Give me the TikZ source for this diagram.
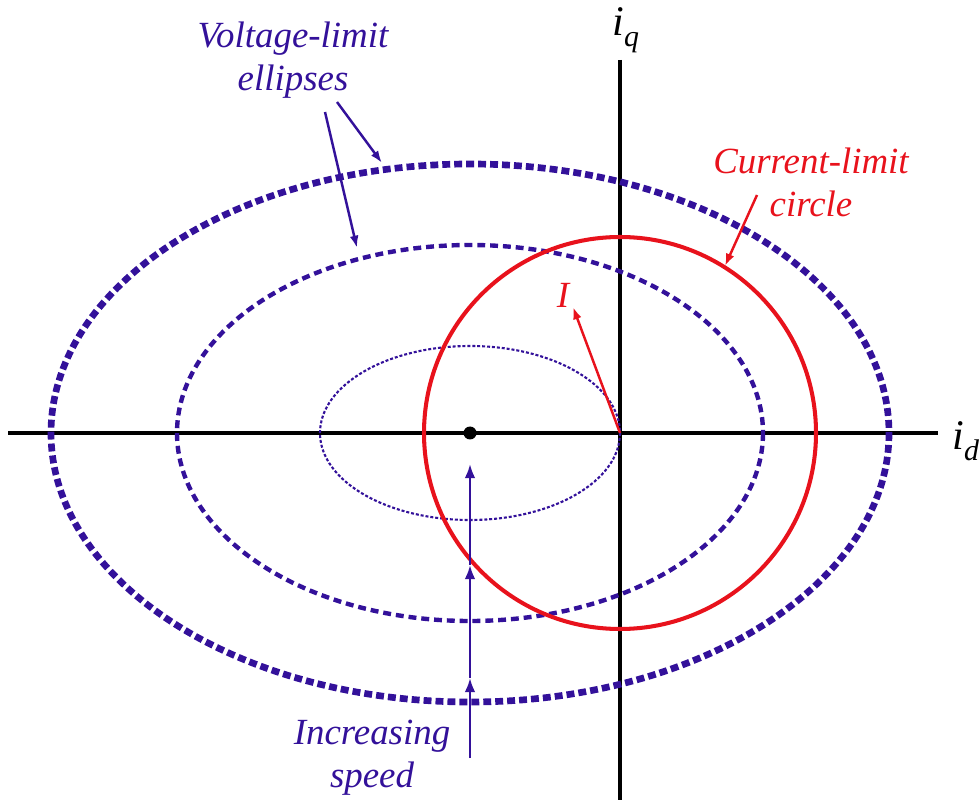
\documentclass[tikz,border=0pt]{standalone}
\usepackage{fontspec}
\setmainfont{Liberation Serif}[ItalicFont={Liberation Serif Italic}]
\usetikzlibrary{arrows.meta}
\definecolor{vblue}{HTML}{33119A}
\definecolor{cred}{HTML}{E8121C}
\newcommand{\axsub}[1]{\raisebox{-0.25em}{\fontsize{17}{17}\selectfont #1}}

\begin{document}
\begin{tikzpicture}[x=0.02cm, y=-0.02cm,
      axis/.style={line width=2pt, black},
      vlarge/.style={vblue, line width=3.8pt, dash pattern=on 4.5pt off 2.3pt},
      vmid/.style={vblue, line width=2.5pt, dash pattern=on 4.5pt off 2.8pt},
      vsmall/.style={vblue, line width=1.2pt, dash pattern=on 1.7pt off 1.1pt},
      clim/.style={cred, line width=2.3pt},
      lbl/.style={font=\fontsize{21}{24.4}\selectfont\itshape, align=center, inner sep=0pt},
      axlbl/.style={font=\fontsize{24}{27}\selectfont\itshape, inner sep=0pt},
      barr/.style={-{Latex[length=7pt, width=5pt]}, vblue, line width=1.4pt},
      sarr/.style={-{Latex[length=8pt, width=6pt]}, vblue, line width=1.4pt},
      rarr/.style={-{Latex[length=7pt, width=5pt]}, cred, line width=1.4pt}
    ]
      \useasboundingbox (0,0) rectangle (980,803);

      % Axes
      \coordinate (o) at (620,433);
      \coordinate (xl) at (8,433);
      \coordinate (xr) at (938,433);
      \coordinate (yt) at (620,60);
      \coordinate (yb) at (620,800);
      \draw[axis] (xl) -- (xr);
      \draw[axis] (yt) -- (yb);
      \node[axlbl, anchor=base west] (id) at (952,450) {i\axsub{d}};
      \node[axlbl, anchor=base west] (iq) at (612,36) {i\axsub{q}};

      % Voltage-limit ellipses
      \coordinate (c) at (470,433);
      \draw[vlarge] (c) ellipse [x radius=419, y radius=269];
      \draw[vmid] (c) ellipse [x radius=293, y radius=188];
      \draw[vsmall] (c) ellipse [x radius=150, y radius=87];
      \fill[black] (c) circle [radius=6.5];

      % Current-limit circle
      \draw[clim] (o) circle [radius=196];
      \coordinate (itip) at (573,307);
      \draw[rarr] (o) -- (itip);
      \node[lbl, text=cred] (ilbl) at (563,295) {I};

      % Annotations
      \node[lbl, text=vblue] (vtxt) at (293,60) {Voltage-limit\\ellipses};
      \coordinate (v1s) at (337,102);
      \coordinate (v1e) at (382,163);
      \coordinate (v2s) at (325,112);
      \coordinate (v2e) at (357,248);
      \draw[barr] (v1s) -- (v1e);
      \draw[barr] (v2s) -- (v2e);

      \node[lbl, text=cred] (ctxt) at (811,182) {Current-limit\\circle};
      \coordinate (cs) at (757,195);
      \coordinate (ce) at (725,266);
      \draw[rarr] (cs) -- (ce);

      \node[lbl, text=vblue] (stxt) at (372,758) {Increasing\\speed};
      \coordinate (s0) at (470,758);
      \coordinate (s1) at (470,678);
      \coordinate (s2) at (470,565);
      \coordinate (s3) at (470,464);
      \draw[sarr] (s0) -- (s1);
      \draw[sarr] (s1) -- (s2);
      \draw[sarr] (s2) -- (s3);
    \end{tikzpicture}
\end{document}
